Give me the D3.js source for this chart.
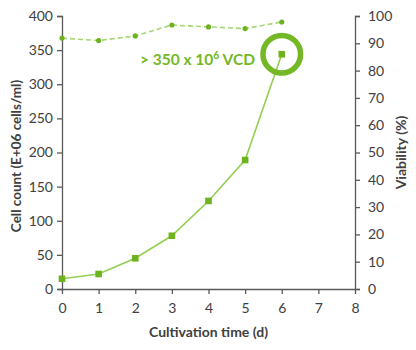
<!DOCTYPE html>
<html><head><meta charset="utf-8">
<script src="https://cdn.jsdelivr.net/npm/d3@7"></script>
<style>body{margin:0;background:#fff}svg{display:block}text{font-family:Lato,"Open Sans",sans-serif}</style>
</head><body><svg id="c" width="416" height="350"></svg>
<script>
const days = [0,1,2,3,4,5,6];
const cellCount = [15,22,45,78,129,189,344];
const viability = [91.9,91.0,92.7,96.7,96.0,95.4,97.8];
const xTicks = [0,1,2,3,4,5,6,7,8];
const yLeftTicks = [0,50,100,150,200,250,300,350,400];
const yRightTicks = [0,10,20,30,40,50,60,70,80,90,100];
const annotation = ["> 350 x 10", "6", " VCD"];

const svg = d3.select("#c");
const L=62, R=355, T=16, B=289;
const x = d3.scaleLinear().domain([0,8]).range([L,R]);
const yL = d3.scaleLinear().domain([0,400]).range([B,T]);
const yR = d3.scaleLinear().domain([0,100]).range([B,T]);
const axisCol="#595959", textCol="#404040";
const markCol="#6db31f", lineCol="#92cf52", dashCol="#a6d672";

function style(g){
  g.selectAll("path,line").attr("stroke",axisCol).attr("stroke-width",1.3);
  g.selectAll("text").attr("fill",textCol).style("font-size","14px");
}
svg.append("g").attr("transform",`translate(${L},0)`)
  .call(d3.axisLeft(yL).tickValues(yLeftTicks).tickSize(5).tickSizeOuter(5).tickPadding(4)).call(style);
svg.append("g").attr("transform",`translate(${R},0)`)
  .call(d3.axisRight(yR).tickValues(yRightTicks).tickSize(5).tickSizeOuter(5).tickPadding(8)).call(style);
svg.append("g").attr("transform",`translate(0,${B})`)
  .call(d3.axisBottom(x).tickValues(xTicks).tickSize(5).tickSizeOuter(0).tickPadding(9)).call(style);

// viability dashed
svg.append("path").datum(days.map((d,i)=>[d,viability[i]]))
  .attr("fill","none").attr("stroke",dashCol).attr("stroke-width",1.6).attr("stroke-dasharray","5,3")
  .attr("d",d3.line().x(d=>x(d[0])).y(d=>yR(d[1])));
svg.selectAll(".vp").data(days).enter().append("circle")
  .attr("cx",d=>x(d)).attr("cy",(d,i)=>yR(viability[i])).attr("r",2.6).attr("fill",markCol);

// cell count solid
svg.append("path").datum(days.map((d,i)=>[d,cellCount[i]]))
  .attr("fill","none").attr("stroke",lineCol).attr("stroke-width",1.6)
  .attr("d",d3.line().x(d=>x(d[0])).y(d=>yL(d[1])));
svg.selectAll(".cp").data(days).enter().append("rect")
  .attr("x",d=>x(d)-3.3).attr("y",(d,i)=>yL(cellCount[i])-3.3).attr("width",6.6).attr("height",6.6).attr("fill",markCol);

// annotation circle
const last = days.length-1;
svg.append("circle").attr("cx",x(days[last])).attr("cy",yL(cellCount[last]))
  .attr("r",18.8).attr("fill","none").attr("stroke","#74b826").attr("stroke-width",5.5);
const t = svg.append("text").attr("x",255).attr("y",65).attr("text-anchor","end")
  .attr("fill","#74b826").style("font-size","15.5px").style("font-weight","bold");
t.append("tspan").text(annotation[0]);
t.append("tspan").text(annotation[1]).attr("dy",-6).style("font-size","10.5px");
t.append("tspan").text(annotation[2]).attr("dy",6);

// axis titles
svg.append("text").attr("x",(L+R)/2).attr("y",337).attr("text-anchor","middle")
  .attr("fill",textCol).style("font-size","14px").style("font-weight","bold").text("Cultivation time (d)");
svg.append("text").attr("transform",`translate(21,156) rotate(-90)`).attr("text-anchor","middle")
  .attr("fill",textCol).style("font-size","13.5px").style("font-weight","bold").text("Cell count (E+06 cells/ml)");
svg.append("text").attr("transform",`translate(406,${(T+B)/2}) rotate(-90)`).attr("text-anchor","middle")
  .attr("fill",textCol).style("font-size","14px").style("font-weight","bold").text("Viability (%)");
</script></body></html>
